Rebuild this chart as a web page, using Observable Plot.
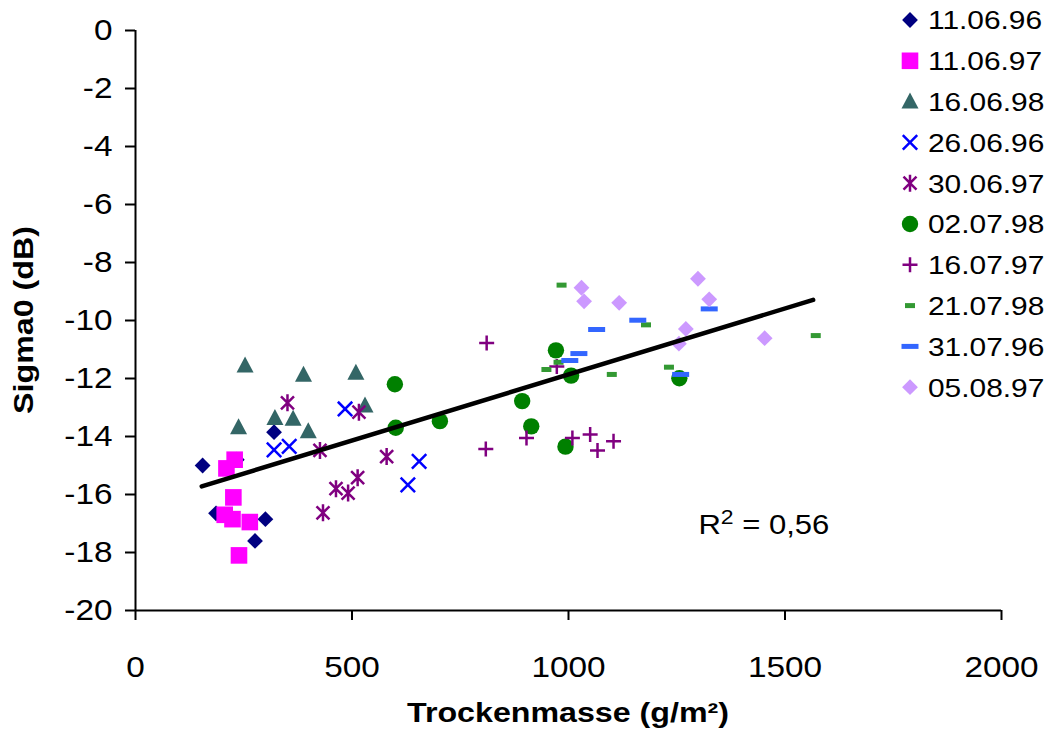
<!DOCTYPE html>
<html><head><meta charset="utf-8">
<script src="https://cdn.jsdelivr.net/npm/d3@7"></script>
<script src="https://cdn.jsdelivr.net/npm/@observablehq/plot@0.6"></script>
<style>
body{margin:0;background:#fff}
#chart{position:relative;width:1045px;height:733px}
</style>
</head><body><div id="chart"></div>
<script>
// ---- data ----
const seriesNames = ["11.06.96","11.06.97","16.06.98","26.06.96","30.06.97","02.07.98","16.07.97","21.07.98","31.07.96","05.08.97"];
const s1x = [155, 234, 186, 276, 300, 320];
const s1y = [-15.0, -14.8, -16.65, -17.6, -16.85, -13.85];
const s2x = [229, 210, 226, 206, 224, 264, 239];
const s2y = [-14.8, -15.1, -16.1, -16.7, -16.85, -16.95, -18.1];
const s3x = [253, 388, 509, 530, 322, 364, 238, 399];
const s3y = [-11.55, -11.87, -11.8, -12.93, -13.36, -13.39, -13.68, -13.82];
const s4x = [320, 355, 484, 655, 629];
const s4y = [-14.46, -14.34, -13.05, -14.86, -15.67];
const s5x = [351, 516, 426, 513, 463, 491, 433, 580];
const s5y = [-12.84, -13.16, -14.48, -15.42, -15.8, -15.95, -16.63, -14.69];
const s6x = [599, 601, 703, 893, 914, 971, 993, 1006, 1256];
const s6y = [-12.2, -13.7, -13.47, -12.78, -13.65, -11.03, -14.35, -11.9, -11.99];
const s7x = [809, 811, 903, 973, 1009, 1050, 1067, 1104];
const s7y = [-14.43, -10.78, -14.05, -11.59, -14.05, -13.93, -14.48, -14.16];
const s8x = [984, 1179, 949, 977, 1100, 1232, 1571];
const s8y = [-8.78, -10.15, -11.69, -11.44, -11.86, -11.61, -10.52];
const s9x = [1065, 1160, 1325, 1024, 1003, 1259];
const s9y = [-10.31, -9.99, -9.6, -11.14, -11.38, -11.86];
const s10x = [1030, 1036, 1117, 1299, 1325, 1271, 1255, 1453];
const s10y = [-8.87, -9.34, -9.39, -8.56, -9.27, -10.29, -10.8, -10.61];
const trendX = [153, 1565];
const trendY = [-15.72, -9.29];
const xTicks = [0, 500, 1000, 1500, 2000];
const yTicks = [0, -2, -4, -6, -8, -10, -12, -14, -16, -18, -20];
const r2Label = "R² = 0,56";
const r2Pos = {x: 1300, y: -17.05};
const xTitle = "Trockenmasse (g/m²)";
const yTitle = "Sigma0 (dB)";

// ---- marker shapes ----
const sym = fn => ({draw(ctx){ fn(ctx); }});
const diamond = h => sym(c => {c.moveTo(0,-h);c.lineTo(h,0);c.lineTo(0,h);c.lineTo(-h,0);c.closePath();});
const square = h => sym(c => {c.moveTo(-h,-h);c.lineTo(h,-h);c.lineTo(h,h);c.lineTo(-h,h);c.closePath();});
const triangle = sym(c => {c.moveTo(0,-9);c.lineTo(8.5,7);c.lineTo(-8.5,7);c.closePath();});
const times = h => sym(c => {c.moveTo(-h,-h);c.lineTo(h,h);c.moveTo(-h,h);c.lineTo(h,-h);});
const asterisk = sym(c => {c.moveTo(-6.5,-6.5);c.lineTo(6.5,6.5);c.moveTo(-6.5,6.5);c.lineTo(6.5,-6.5);c.moveTo(0,-8.5);c.lineTo(0,8.5);});
const circle = r => sym(c => {c.moveTo(r,0);c.arc(0,0,r,0,2*Math.PI);c.closePath();});
const plus = h => sym(c => {c.moveTo(-h,0);c.lineTo(h,0);c.moveTo(0,-h);c.lineTo(0,h);});
const dash = (w,h) => sym(c => {c.moveTo(-w/2,-h/2);c.lineTo(w/2,-h/2);c.lineTo(w/2,h/2);c.lineTo(-w/2,h/2);c.closePath();});

const styles = [
  {symbol: diamond(7.9), fill: "#000080", stroke: "none"},
  {symbol: square(8.3), fill: "#FF00FF", stroke: "none"},
  {symbol: triangle, fill: "#336666", stroke: "none"},
  {symbol: times(7.2), fill: "none", stroke: "#0000FF", strokeWidth: 2.5},
  {symbol: asterisk, fill: "none", stroke: "#800080", strokeWidth: 2.5},
  {symbol: circle(8.2), fill: "#008000", stroke: "none"},
  {symbol: plus(7.5), fill: "none", stroke: "#800080", strokeWidth: 2.5},
  {symbol: dash(10,5), fill: "#339933", stroke: "none"},
  {symbol: dash(17,5), fill: "#3366FF", stroke: "none"},
  {symbol: diamond(7.9), fill: "#CC99FF", stroke: "none"}
];
const xs = [s1x,s2x,s3x,s4x,s5x,s6x,s7x,s8x,s9x,s10x];
const ys = [s1y,s2y,s3y,s4y,s5y,s6y,s7y,s8y,s9y,s10y];
const series = seriesNames.map((name,i) => ({name, data: xs[i].map((x,j) => ({x, y: ys[i][j]})), ...styles[i]}));
const trend = trendX.map((x,i) => ({x, y: trendY[i]}));

const plot = Plot.plot({
  width: 1045, height: 733,
  marginLeft: 135, marginRight: 44, marginTop: 30, marginBottom: 123,
  x: {domain: [0, 2000]},
  y: {domain: [-20, 0]},
  style: {fontFamily: "'Liberation Sans', Arial, sans-serif", fontSize: "29px", color: "black", background: "white", overflow: "visible"},
  marks: [
    ...series.map(s => Plot.dot(s.data, {x: "x", y: "y", r: 8, symbol: s.symbol, fill: s.fill, stroke: s.stroke, strokeWidth: s.strokeWidth || 0})),
    Plot.line(trend, {x: "x", y: "y", stroke: "black", strokeWidth: 4.5}),
    Plot.text([r2Label], {x: () => r2Pos.x, y: () => r2Pos.y, text: d => d, textAnchor: "start", fontSize: 27}),
    Plot.ruleX([0], {strokeWidth: 2}),
    Plot.ruleY([-20], {strokeWidth: 2}),
    Plot.axisX({ticks: xTicks, tickSize: 10, tickPadding: 36, tickFormat: d => String(d), label: null, strokeWidth: 2}),
    Plot.axisY({ticks: yTicks, tickSize: 10, tickPadding: 13, tickFormat: d => String(d), label: null, strokeWidth: 2})
  ]
});
document.getElementById("chart").appendChild(plot);

const svg = d3.select(plot);

// superscript for R²
svg.selectAll("text").each(function(){
  if (this.textContent === r2Label) {
    const t = d3.select(this);
    t.text(null);
    t.append("tspan").text("R");
    t.append("tspan").attr("dy", -10).attr("font-size", 20).text("2");
    t.append("tspan").attr("dy", 10).text(" = 0,56");
  }
});

// axis titles
svg.append("text").attr("transform", "translate(568,722)").attr("text-anchor", "middle")
  .attr("font-weight", "bold").attr("font-size", 28).text(xTitle);
svg.append("text").attr("transform", "translate(33,320) rotate(-90)").attr("text-anchor", "middle")
  .attr("font-weight", "bold").attr("font-size", 28).text(yTitle);

// legend
const lg = svg.append("g").attr("class", "legend");
series.forEach((s, i) => {
  const cy = 20 + 40.8 * i;
  lg.append("path").attr("transform", `translate(910,${cy})`)
    .attr("d", d3.symbol(s.symbol, 64)())
    .attr("fill", s.fill).attr("stroke", s.stroke).attr("stroke-width", s.strokeWidth || 0);
  lg.append("text").attr("transform", `translate(928,${cy})`).attr("dy", "0.36em")
    .attr("text-anchor", "start").attr("font-size", 26).text(s.name);
});

// widen glyphs slightly, as in the reference rendering
const S = 1.15;
svg.selectAll("text").each(function(){
  const x = parseFloat(this.getAttribute("x")) || 0;
  const tr = this.getAttribute("transform") || "";
  this.setAttribute("transform", `${tr} translate(${x},0) scale(${S},1) translate(${-x},0)`);
});
</script>
</body></html>
